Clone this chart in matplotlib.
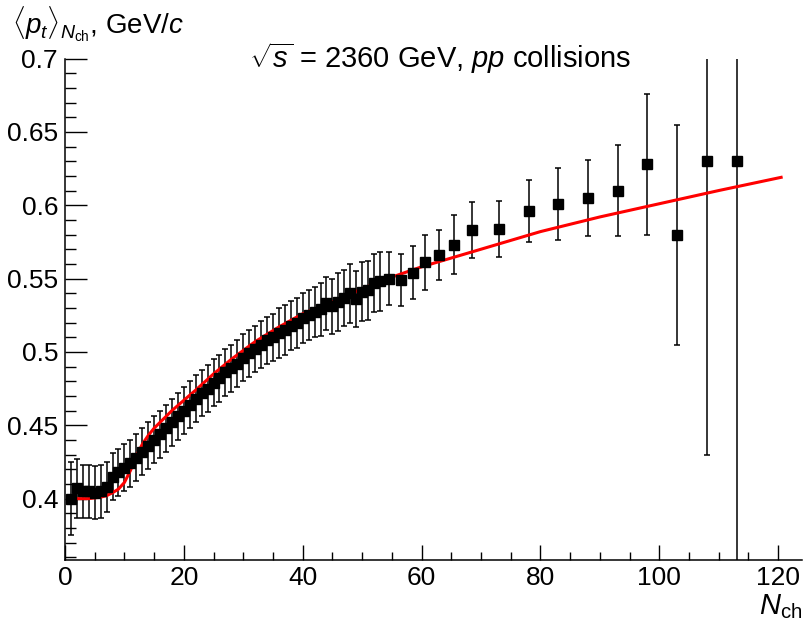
import matplotlib
matplotlib.use('Agg')
import matplotlib.pyplot as plt
from matplotlib.ticker import MultipleLocator

# Fonts: Helvetica-like, ROOT style
plt.rcParams['font.family'] = ['Liberation Sans', 'DejaVu Sans']
plt.rcParams['mathtext.fontset'] = 'custom'
plt.rcParams['mathtext.rm'] = 'Liberation Sans'
plt.rcParams['mathtext.it'] = 'Liberation Sans:italic'

# Data
n_ch = [1, 2, 3, 4, 5, 6, 7, 8, 9, 10,
        11, 12, 13, 14, 15, 16, 17, 18, 19, 20,
        21, 22, 23, 24, 25, 26, 27, 28, 29, 30,
        31, 32, 33, 34, 35, 36, 37, 38, 39, 40,
        41, 42, 43, 44, 45, 46, 47, 48, 49, 50,
        51, 52, 53, 54.5, 56.5, 58.5, 60.5, 63, 65.5, 68.5,
        73, 78, 83, 88, 93, 98, 103, 108, 113]
mean_pt = [0.400, 0.407, 0.405, 0.405, 0.404, 0.405, 0.408, 0.415, 0.418, 0.421,
           0.424, 0.428, 0.432, 0.436, 0.440, 0.444, 0.448, 0.452, 0.456, 0.460,
           0.464, 0.468, 0.472, 0.475, 0.479, 0.482, 0.486, 0.489, 0.492, 0.496,
           0.499, 0.502, 0.505, 0.508, 0.510, 0.513, 0.515, 0.518, 0.520, 0.523,
           0.525, 0.527, 0.529, 0.533, 0.531, 0.534, 0.537, 0.540, 0.536, 0.541,
           0.542, 0.547, 0.548, 0.550, 0.549, 0.554, 0.561, 0.566, 0.573, 0.583,
           0.584, 0.596, 0.601, 0.605, 0.610, 0.628, 0.580, 0.630, 0.630]
pt_err = [0.025, 0.020, 0.018, 0.018, 0.018, 0.018, 0.017, 0.016, 0.016, 0.016,
          0.016, 0.016, 0.016, 0.016, 0.016, 0.016, 0.016, 0.016, 0.016, 0.016,
          0.016, 0.016, 0.016, 0.016, 0.016, 0.016, 0.016, 0.016, 0.016, 0.016,
          0.016, 0.016, 0.016, 0.016, 0.016, 0.017, 0.017, 0.017, 0.017, 0.017,
          0.017, 0.017, 0.018, 0.018, 0.019, 0.020, 0.019, 0.020, 0.019, 0.020,
          0.020, 0.020, 0.020, 0.018, 0.018, 0.018, 0.0185, 0.017, 0.020, 0.019,
          0.019, 0.021, 0.0245, 0.026, 0.031, 0.048, 0.075, 0.20, 0.35]

# Fit curve
fit_n = [1, 2, 4, 6, 7, 8, 9, 10, 11, 12, 13, 14, 15, 16, 18, 20, 22, 25, 28,
         32, 36, 40, 45, 50, 55, 60, 70, 80, 90, 100, 110, 120.5]
fit_pt = [0.400, 0.400, 0.400, 0.401, 0.402, 0.404, 0.4065, 0.411, 0.419, 0.429,
          0.437, 0.443, 0.448, 0.452, 0.460, 0.467, 0.474, 0.485, 0.495,
          0.507, 0.517, 0.526, 0.534, 0.543, 0.551, 0.558, 0.570, 0.582,
          0.592, 0.601, 0.610, 0.619]

fig = plt.figure(figsize=(8.05, 6.23), dpi=100)
# frame: x from 65 to 802 px, y from 58.5 (0.7) to 559.5 px
ax = fig.add_axes([0.0807, 1 - 559.5 / 623, 0.9155, (559.5 - 58.5) / 623])

ax.errorbar(n_ch, mean_pt, yerr=pt_err, fmt='s', color='black',
            markersize=6.5, elinewidth=1.1, capsize=2.2, capthick=1.1)
ax.plot(fit_n, fit_pt, color='#ff0000', linewidth=2.2)

ax.set_xlim(0, 124)
ax.set_ylim(0.3585, 0.7)

ax.spines['top'].set_visible(False)
ax.spines['right'].set_visible(False)
ax.spines['left'].set_linewidth(1.1)
ax.spines['bottom'].set_linewidth(1.1)

ax.xaxis.set_major_locator(MultipleLocator(20))
ax.xaxis.set_minor_locator(MultipleLocator(5))
ax.yaxis.set_major_locator(MultipleLocator(0.05))
ax.yaxis.set_minor_locator(MultipleLocator(0.01))
ax.yaxis.set_major_formatter(plt.FuncFormatter(lambda v, p: ('%.2f' % v).rstrip('0')))

# ROOT-like inward ticks (y ticks scale with frame width, x with frame height)
ax.tick_params(which='both', direction='in', width=1.0, top=False, right=False,
               labelsize=19)
ax.tick_params(axis='y', which='major', length=16, pad=5)
ax.tick_params(axis='y', which='minor', length=8)
ax.tick_params(axis='x', which='major', length=10.5, pad=5)
ax.tick_params(axis='x', which='minor', length=5.5)

# Titles and axis labels
fig.text(0.547, 1 - 58 / 623, r'$\sqrt{s}$ = 2360 GeV, $pp$ collisions',
         ha='center', va='center', fontsize=21)
fig.text(12 / 805, 1 - 5 / 623, r'$\langle p_t\rangle_{N_{\rm ch}}$, GeV/$c$',
         ha='left', va='top', fontsize=20)
fig.text(0.997, 0.003, r'$N_{\rm ch}$', ha='right', va='bottom', fontsize=21)

fig.savefig('out.png', dpi=100)
